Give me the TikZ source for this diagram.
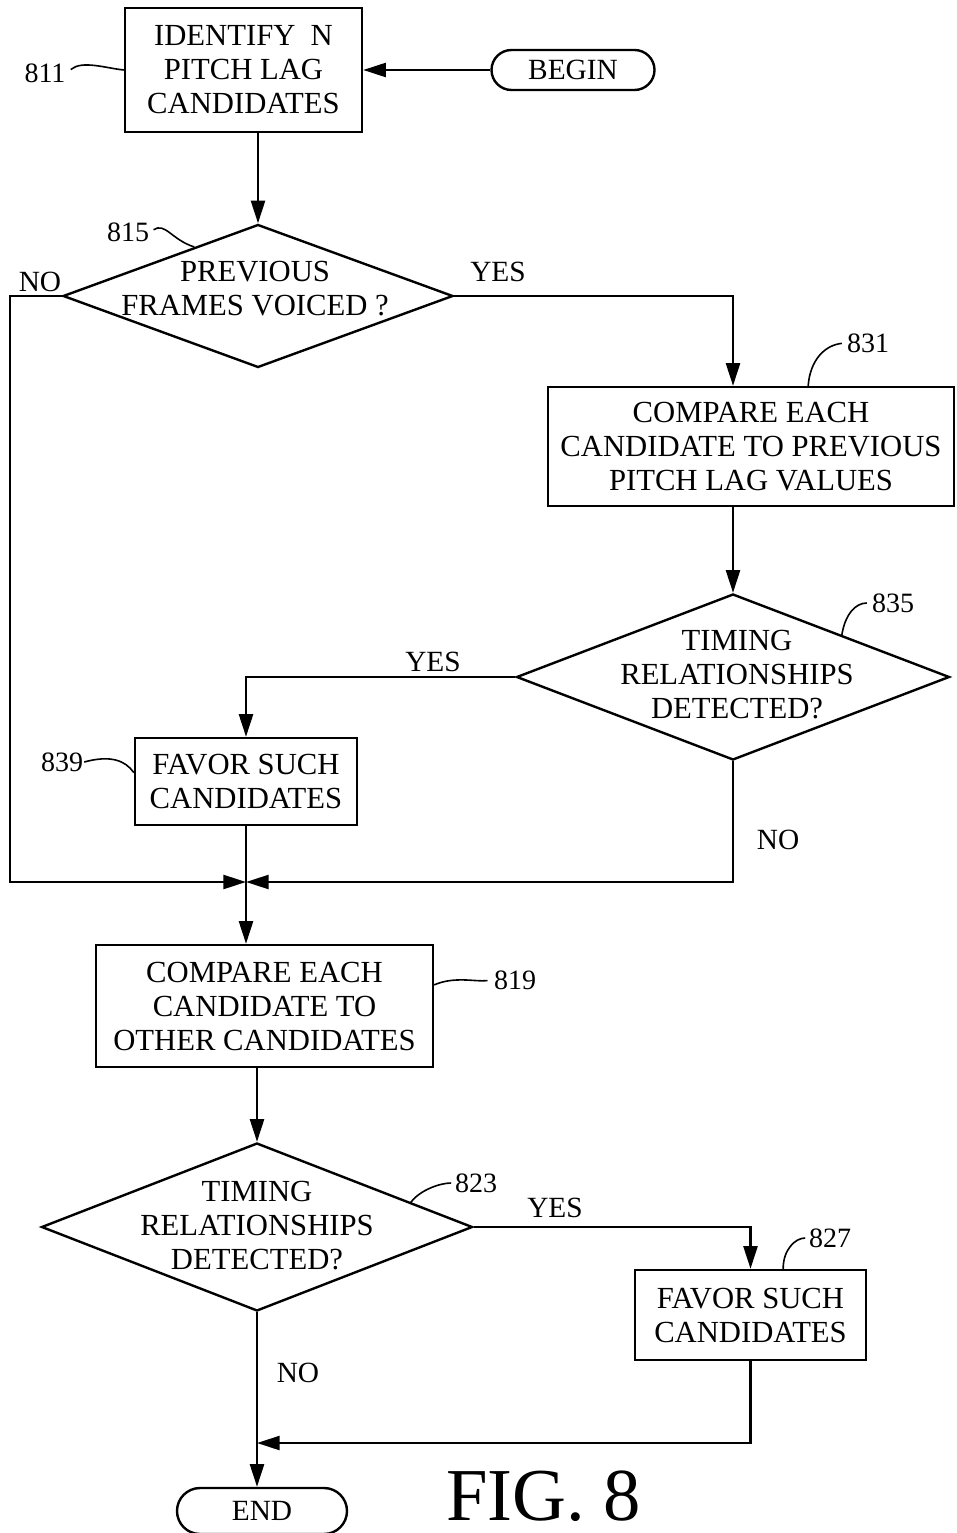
\documentclass[tikz,border=0pt]{standalone}
\usepackage{fontspec}
\setmainfont{Liberation Serif}
\usetikzlibrary{arrows.meta,shapes.geometric,shapes.misc,calc}
\begin{document}
\begin{tikzpicture}[x=0.75pt,y=-0.75pt,
  line width=1.8pt,
  box/.style={draw,rectangle,inner sep=0pt,align=center,font=\fontsize{23}{25.5}\selectfont},
  dec/.style={draw,diamond,inner sep=0pt},
  dtext/.style={align=center,inner sep=0pt,font=\fontsize{23}{25.5}\selectfont},
  term/.style={draw,rounded rectangle,inner sep=0pt,font=\fontsize{22}{24}\selectfont},
  arr/.style={-{Triangle[length=17pt,width=10.5pt]}},
  lbl/.style={font=\fontsize{21}{24}\selectfont,inner sep=0pt},
  yn/.style={font=\fontsize{22}{24}\selectfont,inner sep=0pt},
  lead/.style={line width=1.2pt}]
\useasboundingbox (0,0) rectangle (956,1533);

% nodes
\node[box,minimum width=177.75pt,minimum height=93pt] (b811) at (243.5,70) {IDENTIFY\ \ N\\PITCH LAG\\CANDIDATES};
\node[term,minimum width=122.25pt,minimum height=30pt] (begin) at (573,70) {BEGIN};
\node[dec,minimum width=292.5pt,minimum height=107.25pt] (d815) at (258,296) {};
\node[dtext] (t815) at (255,289) {PREVIOUS\\FRAMES VOICED ?};
\node[box,minimum width=304.5pt,minimum height=89.25pt] (b831) at (751,446.5) {COMPARE EACH\\CANDIDATE TO PREVIOUS\\PITCH LAG VALUES};
\node[dec,minimum width=324.75pt,minimum height=124.5pt] (d835) at (733,677) {};
\node[dtext] (t835) at (737,675) {TIMING\\RELATIONSHIPS\\DETECTED?};
\node[box,minimum width=166.5pt,minimum height=65.25pt] (b839) at (246,781.5) {FAVOR SUCH\\CANDIDATES};
\node[box,minimum width=252.75pt,minimum height=91.5pt] (b819) at (264.5,1006) {COMPARE EACH\\CANDIDATE TO\\OTHER CANDIDATES};
\node[dec,minimum width=323.25pt,minimum height=126pt] (d823) at (257,1227) {};
\node[dtext] (t823) at (257,1226) {TIMING\\RELATIONSHIPS\\DETECTED?};
\node[box,minimum width=173.25pt,minimum height=67.5pt] (b827) at (750.5,1315) {FAVOR SUCH\\CANDIDATES};
\node[term,minimum width=127.5pt,minimum height=34.5pt] (end) at (262,1511) {END};

\coordinate (M) at (246,882);
\coordinate (L) at (10,882);
\coordinate (N) at (257,1443);

% connectors
\draw[arr] (begin.west) -- (b811.east);
\draw[arr] (b811.south -| d815.north) -- (d815.north);
\draw[arr] (d815.east) -| (d835.north |- b831.north);
\draw[arr] (b831.south -| d835.north) -- (d835.north);
\draw[arr] (d835.west) -| (b839.north);
\draw[arr] (d815.west) -| (L) -- (M);
\draw[arr] (d835.south) |- (M);
\draw[arr] (b839.south) -- (b839.south |- b819.north);
\draw[arr] (b819.south -| d823.north) -- (d823.north);
\draw[arr] (d823.east) -| (b827.north);
\draw[arr] (d823.south) -- (d823.south |- end.north);
\draw[arr] (b827.south) |- (N);

% branch labels
\node[yn] (no1) at (40,282) {NO};
\node[yn] (yes1) at (498,272) {YES};
\node[yn] (yes2) at (433,662) {YES};
\node[yn] (no2) at (778,840) {NO};
\node[yn] (yes3) at (555,1208) {YES};
\node[yn] (no3) at (298,1373) {NO};

% reference numerals with leaders
\node[lbl] (l811) at (45,73) {811};
\draw[lead,shorten <=4pt] (l811.east) .. controls (82,60) and (105,68) .. (b811.west);
\node[lbl] (l815) at (128,232) {815};
\draw[lead,shorten <=3pt] (l815.east) .. controls (165,222) and (172,240) .. ($(d815.north west)!0.35!(d815.north)$);
\node[lbl] (l831) at (868,343) {831};
\draw[lead,shorten >=3pt] ($(b831.north west)!0.64!(b831.north east)$) .. controls (810,360) and (825,345) .. (l831.west);
\node[lbl] (l835) at (893,603) {835};
\draw[lead,shorten >=3pt] (d835.north east) .. controls (845,615) and (855,603) .. (l835.west);
\node[lbl] (l839) at (62,762) {839};
\draw[lead] (l839.east) .. controls (110,755) and (125,760) .. ($(b839.north west)!0.4!(b839.south west)$);
\node[lbl] (l819) at (515,980) {819};
\draw[lead,shorten >=4pt] ($(b819.north east)!0.33!(b819.south east)$) .. controls (455,976) and (475,982) .. (l819.west);
\node[lbl] (l823) at (476,1183) {823};
\draw[lead,shorten >=2pt] ($(d823.north)!0.71!(d823.east)$) .. controls (420,1190) and (440,1183) .. (l823.west);
\node[lbl] (l827) at (830,1238) {827};
\draw[lead,shorten >=2pt] ($(b827.north west)!0.64!(b827.north east)$) .. controls (783,1250) and (795,1238) .. (l827.west);

\node[anchor=base west,inner sep=0pt,font=\fontsize{56}{56}\selectfont] (fig) at (445,1520) {FIG. 8};
\end{tikzpicture}
\end{document}
